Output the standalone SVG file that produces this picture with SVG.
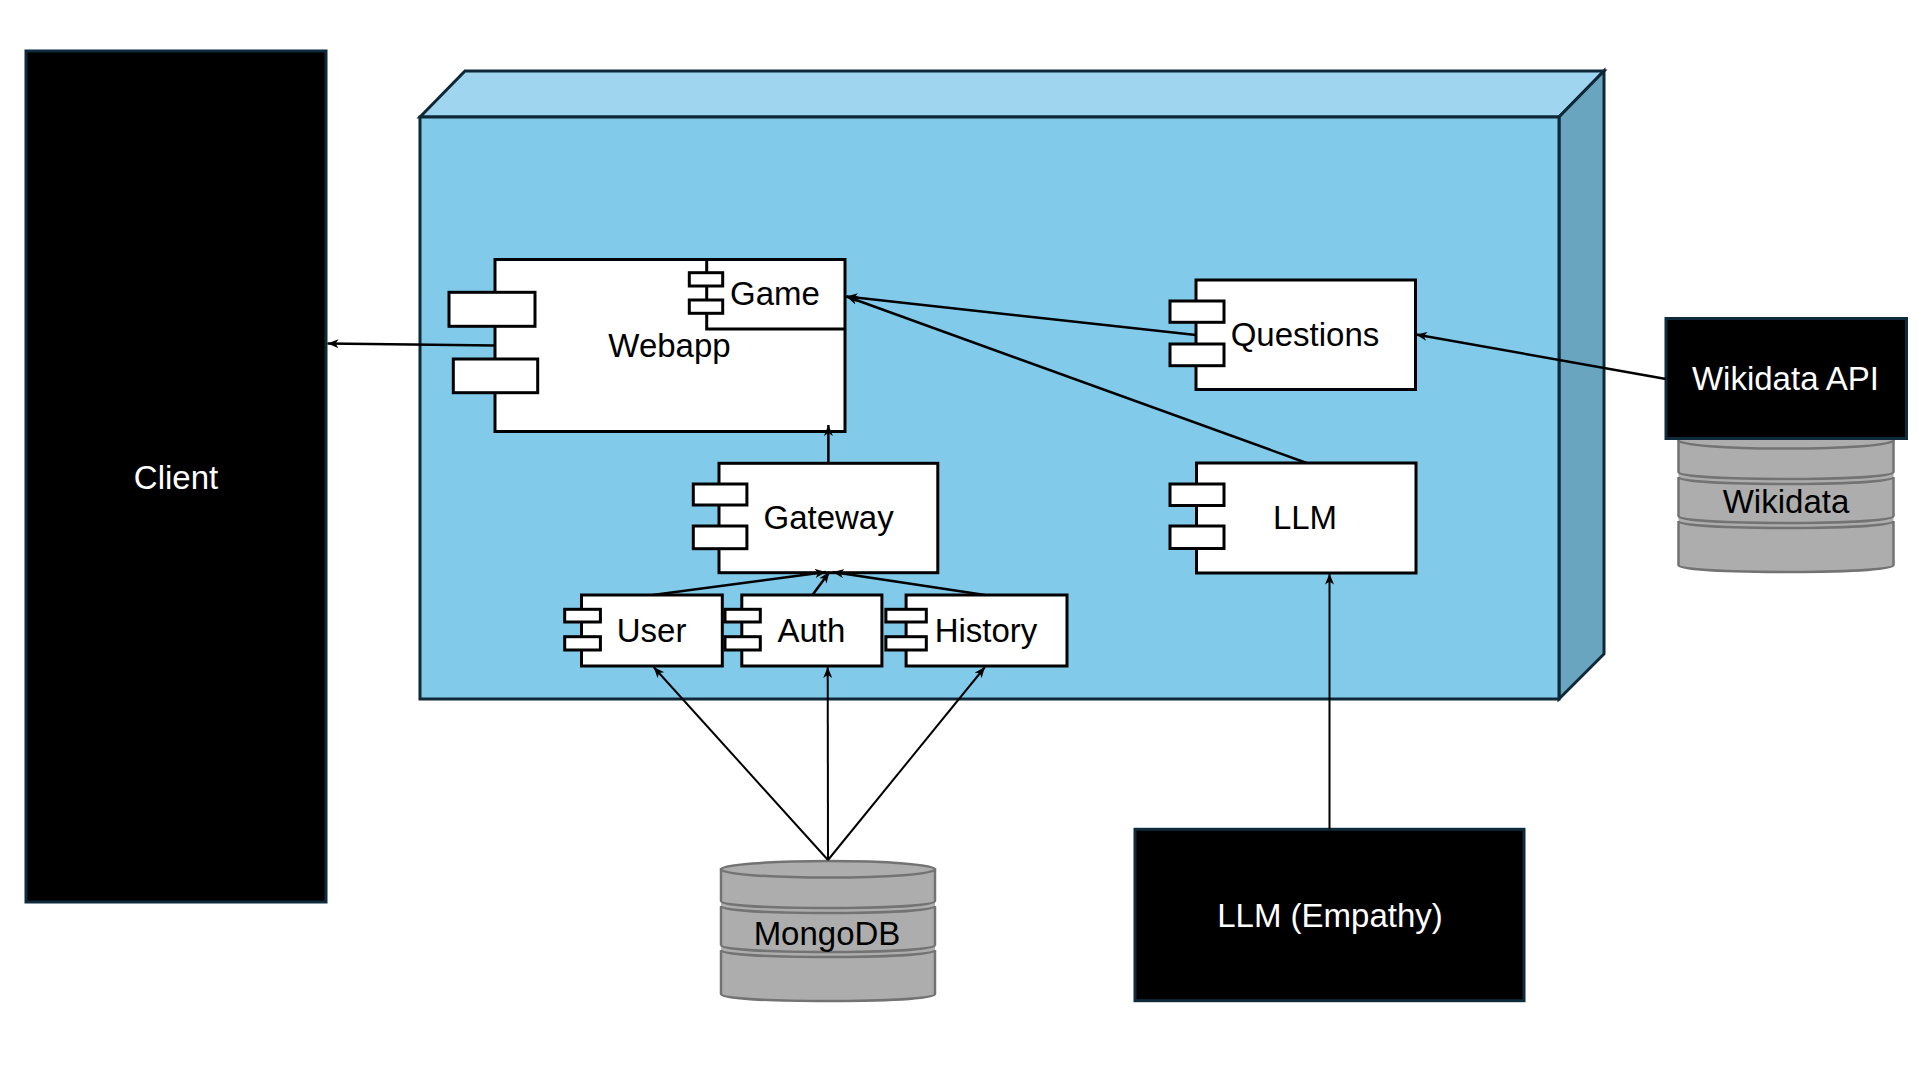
<svg xmlns="http://www.w3.org/2000/svg" width="1920" height="1080" viewBox="0 0 1920 1080">
<style>
  .lbl { font-family: "Liberation Sans", Arial, sans-serif; font-size: 33px; text-anchor: middle; fill: #000; }
  .wlbl { font-family: "Liberation Sans", Arial, sans-serif; font-size: 33px; text-anchor: middle; fill: #fff; }
  .comp { fill: #fff; stroke: #000; stroke-width: 3; }
  .ext { fill: #000; stroke: #0F2A3A; stroke-width: 3; }
  .db { fill: #ADADAD; stroke: #737373; stroke-width: 2.5; }
  .dbfill { fill: #ADADAD; stroke: none; }
  .edge { fill: none; stroke: #000; stroke-width: 2.5; marker-end: url(#arr); }
  .edge2 { fill: none; stroke: #000; stroke-width: 2; marker-end: url(#arr); }
</style>
<defs>
  <marker id="arr" markerUnits="userSpaceOnUse" markerWidth="12" markerHeight="10" refX="11" refY="4.5" orient="auto">
    <path d="M0,0 L11,4.5 L0,9 L3,4.5 Z" fill="#000"/>
  </marker>
</defs>
<rect x="0" y="0" width="1920" height="1080" fill="#fff"/>

<g id="server-node">
  <polygon points="420,117 465,71 1604,71 1559,117" fill="#9FD5EE" stroke="#0E2838" stroke-width="3" stroke-linejoin="miter"/>
  <polygon points="1559,117 1604,71 1604,654 1559,699" fill="#6AA5C0" stroke="#0E2838" stroke-width="3"/>
  <rect x="420" y="117" width="1139" height="582" fill="#82CAEA" stroke="#0E2838" stroke-width="3"/>
</g>

<g id="client">
  <rect class="ext" x="26" y="51" width="300" height="851"/>
  <text class="wlbl" x="176" y="489">Client</text>
</g>

<g id="webapp">
  <rect class="comp" x="495" y="259.5" width="350" height="172"/>
  <rect class="comp" x="449" y="292.3" width="86" height="34"/>
  <rect class="comp" x="453.3" y="359" width="84.4" height="33.7"/>
  <text class="lbl" x="669.5" y="356.7">Webapp</text>
  <g id="game">
    <path d="M706.7,259.5 V329 H845" fill="none" stroke="#000" stroke-width="3"/>
    <rect class="comp" x="689.3" y="272.7" width="33.4" height="13.3"/>
    <rect class="comp" x="689.3" y="300" width="33.4" height="13.3"/>
    <text class="lbl" x="775" y="305">Game</text>
  </g>
</g>

<g id="gateway">
  <rect class="comp" x="719" y="463.3" width="218.8" height="109.4"/>
  <rect class="comp" x="693.3" y="484" width="53.6" height="21"/>
  <rect class="comp" x="693.3" y="526" width="53.6" height="22.7"/>
  <text class="lbl" x="828.6" y="529.3">Gateway</text>
</g>

<g id="user">
  <rect class="comp" x="581.5" y="595" width="140.8" height="71"/>
  <rect class="comp" x="564.7" y="609.3" width="35.7" height="12.7"/>
  <rect class="comp" x="564.7" y="636.7" width="35.7" height="13.3"/>
  <text class="lbl" x="651.6" y="641.7">User</text>
</g>

<g id="auth">
  <rect class="comp" x="741.8" y="595" width="140.1" height="71"/>
  <rect class="comp" x="725" y="609.3" width="35.3" height="12.7"/>
  <rect class="comp" x="725" y="636.7" width="35.3" height="13.3"/>
  <text class="lbl" x="811.4" y="641.7">Auth</text>
</g>

<g id="history">
  <rect class="comp" x="906.1" y="595" width="160.9" height="71"/>
  <rect class="comp" x="885.9" y="609.3" width="40.4" height="12.7"/>
  <rect class="comp" x="885.9" y="636.7" width="40.4" height="13.3"/>
  <text class="lbl" x="986" y="641.7">History</text>
</g>

<g id="questions">
  <rect class="comp" x="1196" y="280" width="219.5" height="109.5"/>
  <rect class="comp" x="1170" y="301" width="54" height="21.3"/>
  <rect class="comp" x="1170" y="344" width="54" height="21.7"/>
  <text class="lbl" x="1305" y="345.7">Questions</text>
</g>

<g id="llm">
  <rect class="comp" x="1196.5" y="463" width="219.5" height="110"/>
  <rect class="comp" x="1170" y="484" width="54" height="21.5"/>
  <rect class="comp" x="1170" y="526" width="54" height="22.5"/>
  <text class="lbl" x="1305" y="529">LLM</text>
</g>

<g id="wikidata-db">
  <rect class="dbfill" x="1678.5" y="440" width="215" height="126"/>
  <path class="db" d="M1678.5,440.3 L1678.5,472 C1678.5,481.3 1893.5,481.3 1893.5,472 L1893.5,440.3 Z"/>
  <path class="db" d="M1678.5,477 C1678.5,486.3 1893.5,486.3 1893.5,477 L1893.5,516 C1893.5,525.3 1678.5,525.3 1678.5,516 Z"/>
  <path class="db" d="M1678.5,521 C1678.5,530.3 1893.5,530.3 1893.5,521 L1893.5,565 C1893.5,574.3 1678.5,574.3 1678.5,565 Z"/>
  <ellipse class="db" cx="1786" cy="440.3" rx="107.5" ry="8.3"/>
  <text class="lbl" x="1786" y="513.3">Wikidata</text>
</g>

<g id="wikidata-api">
  <rect class="ext" x="1666" y="318.5" width="240.5" height="120"/>
  <text class="wlbl" x="1785.5" y="390">Wikidata API</text>
</g>

<g id="mongodb">
  <rect class="dbfill" x="721" y="869" width="214" height="126"/>
  <path class="db" d="M721,869.3 L721,901 C721,910.3 935,910.3 935,901 L935,869.3 Z"/>
  <path class="db" d="M721,906 C721,915.3 935,915.3 935,906 L935,945 C935,954.3 721,954.3 721,945 Z"/>
  <path class="db" d="M721,950 C721,959.3 935,959.3 935,950 L935,994 C935,1003.3 721,1003.3 721,994 Z"/>
  <ellipse class="db" cx="828" cy="869.3" rx="107" ry="8.3"/>
  <text class="lbl" x="827" y="945">MongoDB</text>
</g>

<g id="llm-empathy">
  <rect class="ext" x="1135" y="829.3" width="389" height="171.4"/>
  <text class="wlbl" x="1330" y="926.7">LLM (Empathy)</text>
</g>

<g id="connectors">
  <path class="edge" d="M495,345.5 L327.5,343.5"/>
  <path class="edge" d="M828.4,463.3 L828.4,425"/>
  <path class="edge" d="M1196,335 L846.5,296.5"/>
  <path class="edge" d="M1306.7,463 L846.5,296.5"/>
  <path class="edge" d="M1666,379 L1416,334.5"/>
  <path class="edge" d="M652.6,595 L826,572"/>
  <path class="edge" d="M812.5,595 L829.4,572"/>
  <path class="edge" d="M985,595 L832.7,572"/>
  <path class="edge2" d="M828,860 L653.6,667"/>
  <path class="edge2" d="M828,860 L827.7,667"/>
  <path class="edge2" d="M828,860 L985,667"/>
  <path class="edge2" d="M1329.5,829.3 L1329.5,573.5"/>
</g>
</svg>
